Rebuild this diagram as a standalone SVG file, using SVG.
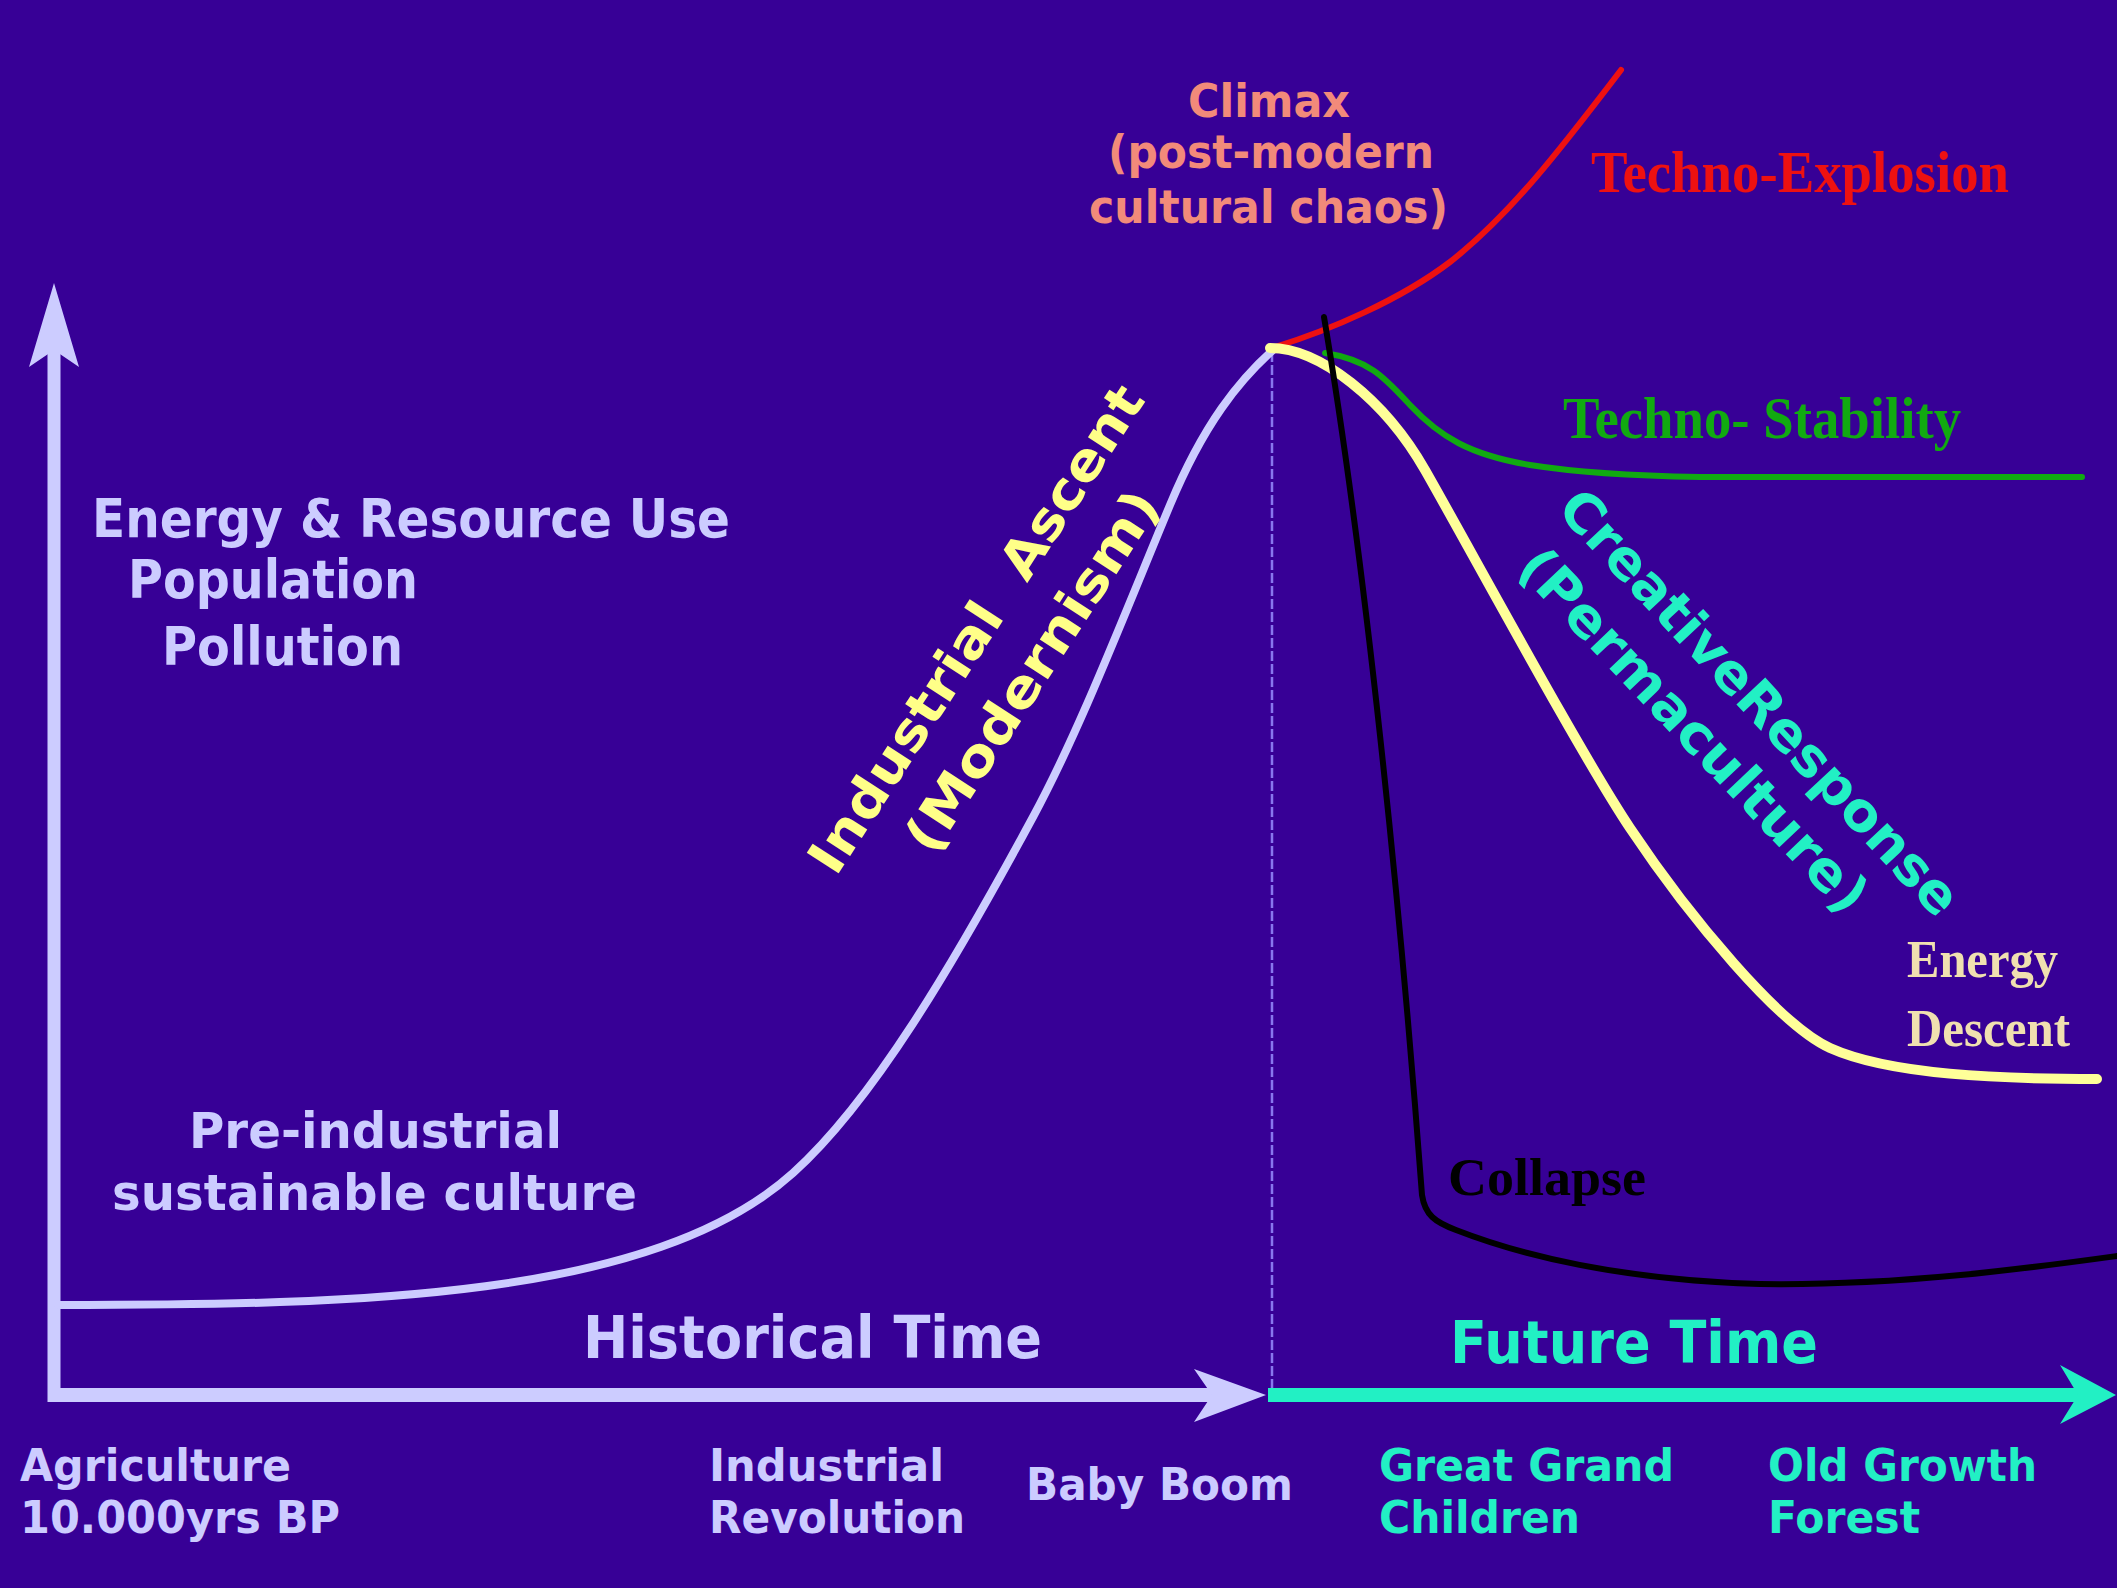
<svg xmlns="http://www.w3.org/2000/svg" width="2117" height="1588" viewBox="0 0 2117 1588">
<style>
.sans{font-family:"DejaVu Sans","Liberation Sans",sans-serif;font-weight:bold}
.serif{font-family:"Liberation Serif","DejaVu Serif",serif;font-weight:bold}
.lav{fill:#ccccff}
.yel{fill:#ffff88}
.cyan{fill:#22f0c4}
.curve{fill:none;stroke-linecap:round;stroke-linejoin:round}
</style>
<rect x="0" y="0" width="2117" height="1588" fill="#370096"/>

<g id="axes">
  <line x1="1272" y1="352" x2="1272" y2="1388" stroke="#8877ee" stroke-width="2.5" stroke-dasharray="10 3"/>
  <line x1="54" y1="350" x2="54" y2="1402" stroke="#ccccff" stroke-width="13"/>
  <path d="M54,283 L79,367 L54,350 L29,367 Z" fill="#ccccff"/>
  <line x1="48" y1="1395" x2="1215" y2="1395" stroke="#ccccff" stroke-width="14"/>
  <path d="M1266,1395 L1194,1369 L1212,1395 L1194,1422 Z" fill="#ccccff"/>
  <line x1="1268" y1="1395" x2="2080" y2="1395" stroke="#22f0c4" stroke-width="14"/>
  <path d="M2116,1395 L2060,1365 L2078,1395 L2060,1424 Z" fill="#22f0c4"/>
</g>

<g id="connectors">
  <path id="ascent" class="curve" stroke="#ccccff" stroke-width="8" d="M58,1305 C358,1305 653,1299 793,1173 C873,1101 953,965 1033,817 C1079,732 1124,615.4 1170,505 C1204,423.4 1239,380.6 1273,350"/>
  <path id="explosion" class="curve" stroke="#ee1111" stroke-width="6" d="M1275,347 C1330,330 1400,300 1450,262 C1510,215 1560,150 1621,70"/>
  <path id="stability" class="curve" stroke="#11aa11" stroke-width="6" d="M1325,353 C1370,360 1385,378 1410,405 C1440,437 1470,455 1530,465 C1580,473 1640,476 1700,477 L2082,477"/>
  <path id="descent" class="curve" stroke="#ffff99" stroke-width="10" d="M1270,348 C1320,348 1385,400 1425,470 C1470,548.75 1580,753 1630,828 C1690,918 1780,1025.5 1830,1048 C1890,1075 2000,1079 2097,1079"/>
  <path id="collapse" class="curve" stroke="#000000" stroke-width="6" d="M1324,317 C1365,560 1400,900 1422,1195 C1425,1215 1435,1222 1456,1230 C1520,1255 1620,1280 1760,1284 C1900,1286 2030,1268 2117,1256"/>
</g>

<g id="y-label">
  <text class="sans lav" x="92" y="537" font-size="54" textLength="638" lengthAdjust="spacingAndGlyphs">Energy &amp; Resource Use</text>
  <text class="sans lav" x="128" y="598" font-size="54" textLength="290" lengthAdjust="spacingAndGlyphs">Population</text>
  <text class="sans lav" x="162" y="665" font-size="54" textLength="241" lengthAdjust="spacingAndGlyphs">Pollution</text>
</g>

<g id="preindustrial">
  <text class="sans lav" x="189" y="1148" font-size="50" textLength="373" lengthAdjust="spacingAndGlyphs">Pre-industrial</text>
  <text class="sans lav" x="112" y="1210" font-size="50" textLength="525" lengthAdjust="spacingAndGlyphs">sustainable culture</text>
</g>

<g id="industrial-ascent" transform="translate(976,629) rotate(-57)">
  <text class="sans yel" x="0" y="18" font-size="52" text-anchor="middle" textLength="570" lengthAdjust="spacingAndGlyphs" xml:space="preserve" style="white-space:pre">Industrial  Ascent</text>
</g>
<g id="modernism" transform="translate(1032,671) rotate(-57)">
  <text class="sans yel" x="0" y="18" font-size="52" text-anchor="middle" textLength="420" lengthAdjust="spacingAndGlyphs">(Modernism)</text>
</g>

<g id="climax">
  <text class="sans" fill="#f28a7a" x="1188" y="117" font-size="46" textLength="162" lengthAdjust="spacingAndGlyphs">Climax</text>
  <text class="sans" fill="#f28a7a" x="1108" y="168" font-size="46" textLength="326" lengthAdjust="spacingAndGlyphs">(post-modern</text>
  <text class="sans" fill="#f28a7a" x="1089" y="223" font-size="46" textLength="359" lengthAdjust="spacingAndGlyphs">cultural chaos)</text>
</g>

<g id="techno-explosion">
  <text class="serif" fill="#ee1111" x="1591" y="192" font-size="60" textLength="418" lengthAdjust="spacingAndGlyphs">Techno-Explosion</text>
</g>
<g id="techno-stability">
  <text class="serif" fill="#11aa11" x="1563" y="438" font-size="60" textLength="398" lengthAdjust="spacingAndGlyphs">Techno- Stability</text>
</g>

<g id="creative-response" transform="translate(1760,702) rotate(47)">
  <text class="sans cyan" x="0" y="19" font-size="54" text-anchor="middle" textLength="560" lengthAdjust="spacingAndGlyphs">CreativeResponse</text>
</g>
<g id="permaculture" transform="translate(1694,730) rotate(46.5)">
  <text class="sans cyan" x="0" y="19" font-size="54" text-anchor="middle" textLength="480" lengthAdjust="spacingAndGlyphs">(Permaculture)</text>
</g>

<g id="energy-descent">
  <text class="serif" fill="#f0e0b0" x="1907" y="977" font-size="52" textLength="151" lengthAdjust="spacingAndGlyphs">Energy</text>
  <text class="serif" fill="#f0e0b0" x="1907" y="1046" font-size="52" textLength="163" lengthAdjust="spacingAndGlyphs">Descent</text>
</g>

<g id="collapse-label">
  <text class="serif" fill="#000000" x="1448" y="1195" font-size="52" textLength="198" lengthAdjust="spacingAndGlyphs">Collapse</text>
</g>

<g id="historical-time">
  <text class="sans lav" x="583" y="1358" font-size="58" textLength="459" lengthAdjust="spacingAndGlyphs">Historical Time</text>
</g>
<g id="future-time">
  <text class="sans cyan" x="1450" y="1363" font-size="58" textLength="368" lengthAdjust="spacingAndGlyphs">Future Time</text>
</g>

<g id="agriculture">
  <text class="sans lav" x="20" y="1481" font-size="44" textLength="271" lengthAdjust="spacingAndGlyphs">Agriculture</text>
  <text class="sans lav" x="20" y="1533" font-size="44" textLength="320" lengthAdjust="spacingAndGlyphs">10.000yrs BP</text>
</g>
<g id="industrial-revolution">
  <text class="sans lav" x="709" y="1481" font-size="44" textLength="235" lengthAdjust="spacingAndGlyphs">Industrial</text>
  <text class="sans lav" x="709" y="1533" font-size="44" textLength="256" lengthAdjust="spacingAndGlyphs">Revolution</text>
</g>
<g id="baby-boom">
  <text class="sans lav" x="1026" y="1500" font-size="44" textLength="267" lengthAdjust="spacingAndGlyphs">Baby Boom</text>
</g>
<g id="great-grand-children">
  <text class="sans cyan" x="1379" y="1481" font-size="44" textLength="295" lengthAdjust="spacingAndGlyphs">Great Grand</text>
  <text class="sans cyan" x="1379" y="1533" font-size="44" textLength="201" lengthAdjust="spacingAndGlyphs">Children</text>
</g>
<g id="old-growth-forest">
  <text class="sans cyan" x="1768" y="1481" font-size="44" textLength="269" lengthAdjust="spacingAndGlyphs">Old Growth</text>
  <text class="sans cyan" x="1768" y="1533" font-size="44" textLength="152" lengthAdjust="spacingAndGlyphs">Forest</text>
</g>
</svg>
